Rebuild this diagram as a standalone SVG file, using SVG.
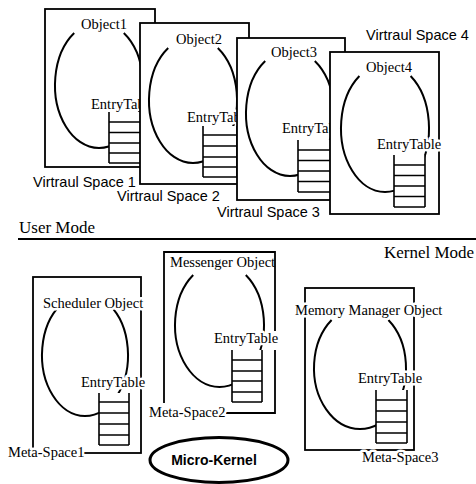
<svg xmlns="http://www.w3.org/2000/svg" width="476" height="484" viewBox="0 0 476 484">
<style>
.box{fill:#fff;stroke:#000;stroke-width:1.8}
.edge{fill:none;stroke:#000;stroke-width:1.8}
.obj{fill:none;stroke:#000;stroke-width:2}
.cell{fill:#fff;stroke:none}
.tl{fill:none;stroke:#000;stroke-width:1.6}
.t{font-family:"Liberation Serif","Times New Roman",serif;font-size:14.5px;fill:#000;stroke:#fff;stroke-width:5;stroke-linejoin:round;paint-order:stroke}
.s{font-family:"Liberation Sans",Arial,sans-serif;font-size:14.5px;fill:#000;stroke:#fff;stroke-width:4;stroke-linejoin:round;paint-order:stroke}
.m{font-size:17px}
.mid{text-anchor:middle}
</style>
<rect width="476" height="484" fill="#fff"/>

<g id="vspace1">
<rect class="box" x="45" y="9" width="110" height="158"/>
<path class="obj" d="M123.8,33 A44,63 0 1 1 74.2,33"/>
<rect class="cell" x="109" y="112" width="32" height="51"/>
<path class="tl" d="M109,112V163M141,112V163M109,122H141M109,132.5H141M109,143H141M109,153H141M109,163H141"/>
<text class="t mid" x="104" y="29">Object1</text>
<text class="t" x="91" y="109">EntryTable</text>
<text class="s" x="33" y="187">Virtraul Space 1</text>
</g>

<g id="vspace2">
<rect class="box" x="140" y="23" width="109" height="161"/>
<path class="obj" d="M217.8,48 A44,63 0 1 1 168.2,48"/>
<rect class="cell" x="203" y="126" width="34" height="51"/>
<path class="tl" d="M203,126V177M237,126V177M203,135H237M203,146H237M203,157H237M203,167H237M203,177H237"/>
<text class="t mid" x="199" y="44">Object2</text>
<text class="t" x="187" y="122">EntryTable</text>
<text class="s" x="117" y="201">Virtraul Space 2</text>
</g>

<g id="vspace3">
<rect class="box" x="237" y="38" width="108" height="162"/>
<path class="obj" d="M314.8,61 A44,63 0 1 1 265.2,61"/>
<rect class="cell" x="298" y="140" width="33" height="52"/>
<path class="tl" d="M298,140V192M331,140V192M298,150H331M298,160.5H331M298,171H331M298,181.5H331M298,192H331"/>
<text class="t mid" x="294" y="57">Object3</text>
<text class="t" x="282" y="133">EntryTable</text>
<text class="s" x="217" y="217">Virtraul Space 3</text>
</g>

<g id="vspace4">
<rect class="box" x="330" y="52" width="109" height="162"/>
<path class="obj" d="M410.6,76 A44,64 0 1 1 359.4,76"/>
<rect class="cell" x="394" y="155" width="31" height="52"/>
<path class="tl" d="M394,155V207M425,155V207M394,165H425M394,175.5H425M394,186H425M394,196.5H425M394,207H425"/>
<text class="t mid" x="389" y="72">Object4</text>
<text class="t" x="377" y="149">EntryTable</text>
<text class="s" x="366" y="40">Virtraul Space 4</text>
</g>

<g id="modes">
<text class="t m" x="19" y="233">User Mode</text>
<text class="t m" x="384" y="258">Kernel Mode</text>
</g>

<g id="connectors">
<line x1="18" y1="239" x2="476" y2="239" stroke="#000" stroke-width="2.2"/>
</g>

<g id="metaspace1">
<rect class="box" x="33" y="277" width="108" height="176"/>
<path class="obj" d="M109.6,305 A43,61 0 1 1 60.4,305"/>
<rect class="cell" x="99" y="393" width="30" height="52"/>
<path class="tl" d="M99,393V445M129,393V445M99,402H129M99,413H129M99,424H129M99,435H129M99,445H129"/>
<text class="t" x="43" y="308">Scheduler Object</text>
<text class="t" x="81" y="387">EntryTable</text>
<text class="t" x="8" y="457">Meta-Space1</text>
</g>

<g id="metaspace2">
<path class="obj" d="M245.8,275 A44.5,62 0 1 1 193.2,275"/>
<rect class="cell" x="232" y="350" width="30" height="52"/>
<path class="tl" d="M232,350V402M262,350V402M232,360H262M232,371H262M232,381H262M232,392H262M232,402H262"/>
<text class="t" x="170" y="267">Messenger Object</text>
<text class="t" x="214" y="343">EntryTable</text>
<path class="edge" d="M164,403V252H275V331M275,350V413H226"/>
<text class="t" x="149" y="417">Meta-Space2</text>
</g>

<g id="metaspace3">
<rect class="box" x="305" y="288" width="109" height="162"/>
<path class="obj" d="M388.4,320 A46,61 0 1 1 331.6,320"/>
<rect class="cell" x="376" y="390" width="31" height="53"/>
<path class="tl" d="M376,390V443M407,390V443M376,400H407M376,411H407M376,422H407M376,433H407M376,443H407"/>
<text class="t" x="295" y="315">Memory Manager Object</text>
<text class="t" x="358" y="383">EntryTable</text>
<text class="t" x="362" y="462">Meta-Space3</text>
</g>

<g id="microkernel">
<ellipse cx="219" cy="460" rx="69" ry="22.5" fill="#fff" stroke="#000" stroke-width="3"/>
<text x="214" y="465" text-anchor="middle" font-family="'Liberation Sans',Arial,sans-serif" font-size="14" font-weight="bold">Micro-Kernel</text>
</g>
</svg>
